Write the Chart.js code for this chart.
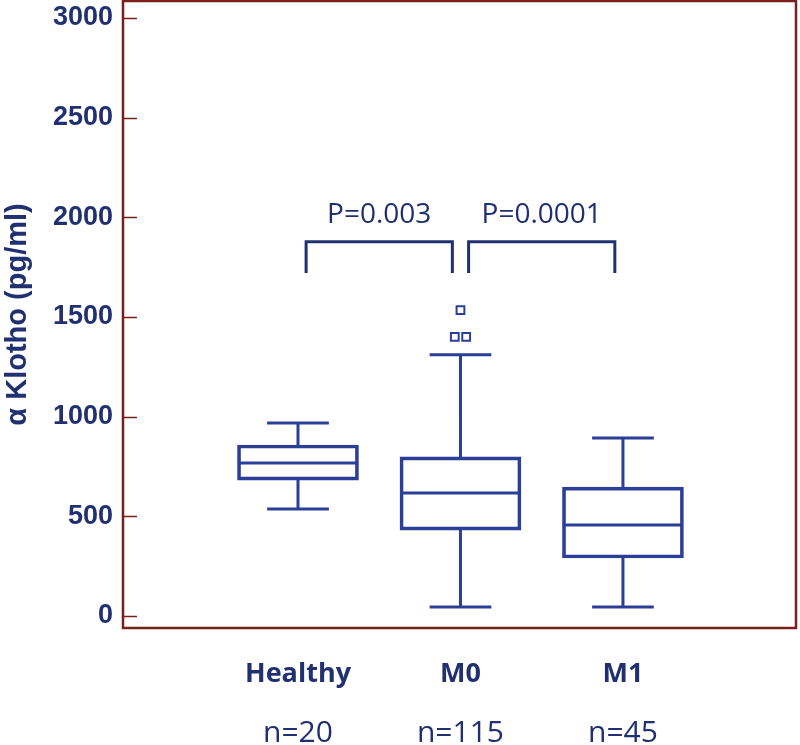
<!DOCTYPE html>
<html><head><meta charset="utf-8">
<script src="https://cdn.jsdelivr.net/npm/chart.js@4.4.1/dist/chart.umd.min.js"></script>
<style>html,body{margin:0;padding:0;background:#fff;} #wrap{width:800px;height:745px;}</style>
</head><body><div id="wrap"><canvas id="c" width="800" height="745"></canvas></div>
<script>
// ---- data ----
const categories = ['Healthy', 'M0', 'M1'];
const sampleSizes = ['n=20', 'n=115', 'n=45'];
const whiskerLow = [537, 45, 45];
const q1 = [682, 431, 291];
const median = [768, 617, 457];
const q3 = [858, 798, 647];
const whiskerHigh = [968, 1310, 893];
const outlierGroup = [1, 1, 1];
const outlierValue = [1535, 1400, 1400];
const yTicks = [0, 500, 1000, 1500, 2000, 2500, 3000];
const pFrom = [0, 1];
const pTo = [1, 2];
const pLabels = ['P=0.003', 'P=0.0001'];
const pBracketTop = [1877, 1877];
const pBracketLeg = [1721, 1721];

// ---- style ----
const BLUE = '#2c3f98';
const NAVY = '#203070';
const BORDER = '#7a1e1e';
const BOX_HALF = 0.37, CAP_HALF = 0.19, BRACKET_INSET = 0.05, OUT_SPREAD = 0.035;

const pos = i => i + 1;

const boxData = categories.map((c, i) => ({x: pos(i), y: [q1[i], q3[i]]}));
const gap = {x: null, y: null};
const whiskerData = [];
categories.forEach((c, i) => {
  const x = pos(i);
  whiskerData.push({x: x - BOX_HALF, y: median[i]}, {x: x + BOX_HALF, y: median[i]}, gap);
  whiskerData.push({x: x, y: q3[i]}, {x: x, y: whiskerHigh[i]}, gap);
  whiskerData.push({x: x - CAP_HALF, y: whiskerHigh[i]}, {x: x + CAP_HALF, y: whiskerHigh[i]}, gap);
  whiskerData.push({x: x, y: q1[i]}, {x: x, y: whiskerLow[i]}, gap);
  whiskerData.push({x: x - CAP_HALF, y: whiskerLow[i]}, {x: x + CAP_HALF, y: whiskerLow[i]}, gap);
});
const outlierData = outlierValue.map((v, k) => {
  const same = outlierValue.map((w, j) => j).filter(j => outlierValue[j] === v && outlierGroup[j] === outlierGroup[k]);
  const rank = same.indexOf(k);
  const off = (rank - (same.length - 1) / 2) * 2 * OUT_SPREAD;
  return {x: pos(outlierGroup[k]) + off, y: v};
});
const bracketData = [];
pLabels.forEach((l, i) => {
  const a = pos(pFrom[i]) + BRACKET_INSET, b = pos(pTo[i]) - BRACKET_INSET;
  bracketData.push({x: a, y: pBracketLeg[i]}, {x: a, y: pBracketTop[i]}, {x: b, y: pBracketTop[i]}, {x: b, y: pBracketLeg[i]}, gap);
});

const framePlugin = {
  id: 'frame',
  afterDatasetsDraw(chart) {
    const {ctx, chartArea: a, scales} = chart;
    const y = scales.y, x = scales.x;
    ctx.save();
    ctx.strokeStyle = BORDER;
    ctx.lineWidth = 1.5;
    y.ticks.forEach(t => {
      const py = Math.round(y.getPixelForValue(t.value)) + 0.5;
      ctx.beginPath(); ctx.moveTo(a.left, py); ctx.lineTo(a.left + 14, py); ctx.stroke();
    });
    ctx.lineWidth = 2.5;
    ctx.strokeRect(a.left, a.top, a.right - a.left, a.bottom - a.top);
    ctx.fillStyle = NAVY;
    ctx.font = '400 28px "Open Sans"';
    ctx.textAlign = 'center';
    ctx.textBaseline = 'alphabetic';
    pLabels.forEach((lab, i) => {
      const mx = x.getPixelForValue((pos(pFrom[i]) + pos(pTo[i])) / 2);
      const ty = y.getPixelForValue(pBracketTop[i]);
      ctx.fillText(lab, mx, ty - 19);
    });
    ctx.restore();
  }
};

const catAxis = (labels, font, height, padding, weight) => ({
  type: 'linear', position: 'bottom', min: -0.077, max: 4.065, weight: weight, offset: false,
  afterBuildTicks: s => { s.ticks = labels.map((l, i) => ({value: pos(i)})); },
  afterFit: s => { s.height = height; s.paddingLeft = 0; s.paddingRight = 0; },
  grid: {display: false, drawTicks: false, offset: false},
  border: {display: false},
  ticks: {callback: (v, i) => labels[i], font: font, color: NAVY, padding: padding, autoSkip: false, maxRotation: 0, minRotation: 0}
});

new Chart(document.getElementById('c'), {
  type: 'bar',
  data: {
    datasets: [
      {type: 'bar', data: boxData, backgroundColor: 'rgba(0,0,0,0)', borderColor: BLUE, borderWidth: 3, borderSkipped: false, barThickness: 121, xAxisID: 'x', yAxisID: 'y'},
      {type: 'line', data: whiskerData, borderColor: BLUE, borderWidth: 3, pointRadius: 0, spanGaps: false, fill: false, borderCapStyle: 'butt', xAxisID: 'x', yAxisID: 'y'},
      {type: 'line', data: bracketData, borderColor: NAVY, borderWidth: 3, pointRadius: 0, spanGaps: false, fill: false, borderCapStyle: 'butt', borderJoinStyle: 'miter', xAxisID: 'x', yAxisID: 'y'},
      {type: 'scatter', data: outlierData, showLine: false, pointStyle: 'rect', pointRadius: 5.5, pointBackgroundColor: '#fff', pointBorderColor: BLUE, pointBorderWidth: 2, xAxisID: 'x', yAxisID: 'y'}
    ]
  },
  options: {
    responsive: false,
    animation: false,
    devicePixelRatio: 1,
    layout: {autoPadding: false, padding: {top: 1, right: 4, bottom: 0, left: 0}},
    plugins: {legend: {display: false}, tooltip: {enabled: false}},
    scales: {
      x: catAxis(categories, {family: 'Open Sans', weight: 'bold', size: 27}, 70, 30, 0),
      xn: catAxis(sampleSizes, {family: 'Open Sans', weight: 'normal', size: 30}, 47, 17, 1),
      y: {
        type: 'linear', position: 'left', min: -60, max: 3085,
        afterBuildTicks: s => { s.ticks = yTicks.map(v => ({value: v})); },
        afterFit: s => { s.width = 123; s.paddingTop = 0; s.paddingBottom = 0; },
        grid: {display: false, drawTicks: false},
        border: {display: false},
        ticks: {callback: v => String(v), font: {family: 'Liberation Sans', weight: 'bold', size: 27}, color: NAVY, padding: 10},
        title: {display: true, text: 'α Klotho (pg/ml)', font: {family: 'Liberation Sans', weight: 'bold', size: 29}, color: NAVY, padding: {top: 1, bottom: 0}}
      }
    }
  },
  plugins: [framePlugin]
});
</script></body></html>
